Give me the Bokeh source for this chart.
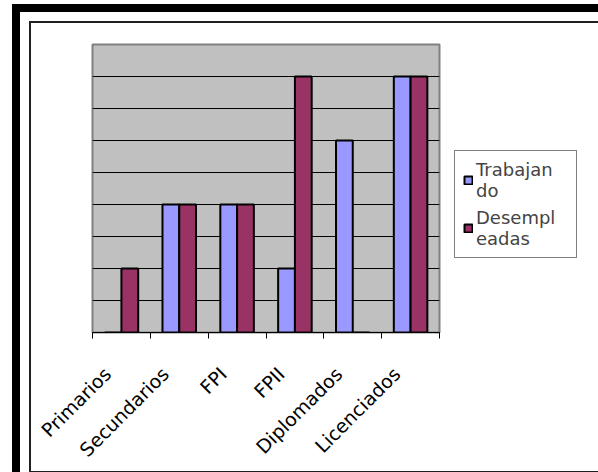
import math
from bokeh.plotting import figure
from bokeh.models import (FactorRange, Range1d, LinearAxis, FixedTicker,
                          Legend, LegendItem, ColumnDataSource, CustomLabelingPolicy)
from bokeh.transform import dodge
from bokeh.embed import file_html
from bokeh.resources import INLINE

categories = ["Primarios", "Secundarios", "FPI", "FPII", "Diplomados", "Licenciados"]
trabajando = [0, 4, 4, 2, 6, 8]
desempleadas = [2, 4, 4, 8, 0, 8]
legend_labels = ["Trabajan\ndo", "Desempl\neadas"]
grid_values = [1, 2, 3, 4, 5, 6, 7, 8]
y_max = 9

source = ColumnDataSource(dict(cat=categories, t=trabajando, d=desempleadas))

p = figure(x_range=FactorRange(*categories), y_range=Range1d(0, y_max),
           frame_width=347, frame_height=288, width=554, height=434,
           min_border_left=61, min_border_right=146, min_border_top=21, min_border_bottom=125,
           x_axis_location=None, y_axis_location=None,
           output_backend="svg", toolbar_location=None, tools="",
           styles={"margin-left": "31px", "margin-top": "23px",
                   "outline": "2px solid #202020",
                   "box-shadow": "0 0 0 11px white, 0 0 0 19px black"})
p.background_fill_color = "#C0C0C0"
p.border_fill_color = "white"
p.outline_line_color = "#808080"
p.outline_line_width = 2
p.xgrid.visible = False
p.ygrid.ticker = FixedTicker(ticks=grid_values)
p.ygrid.grid_line_color = "black"
p.ygrid.grid_line_width = 1

r1 = p.vbar(x=dodge("cat", -0.145, range=p.x_range), top="t", width=0.29, source=source,
            fill_color="#9999FF", line_color="black", line_width=2)
r2 = p.vbar(x=dodge("cat", 0.145, range=p.x_range), top="d", width=0.29, source=source,
            fill_color="#993366", line_color="black", line_width=2)

n = len(categories)
# tick marks at category boundaries (synthetic coordinates 0..n), no labels
tick_axis = LinearAxis(ticker=FixedTicker(ticks=list(range(n + 1))),
                       major_tick_out=6, major_tick_in=0, minor_tick_out=0, minor_tick_in=0,
                       major_label_standoff=0,
                       major_label_policy=CustomLabelingPolicy(
                           code="for (const i of indices) indices.unset(i); return indices"),
                       axis_line_color="black", major_tick_line_color="black")
p.add_layout(tick_axis, "below")

# category names, rotated 45 degrees, ending a little left of each category centre
label_pos = [i + 0.26 for i in range(n)]
label_axis = LinearAxis(ticker=FixedTicker(ticks=label_pos),
                        major_label_overrides={pos: name for pos, name in zip(label_pos, categories)},
                        major_label_orientation=math.pi / 4, axis_line_color=None,
                        major_tick_line_color=None, major_tick_out=0, major_tick_in=0,
                        minor_tick_line_color=None, minor_tick_out=0, minor_tick_in=0,
                        major_label_text_font="DejaVu Sans", major_label_text_font_size="19px",
                        major_label_text_color="black", major_label_standoff=21)
p.add_layout(label_axis, "below")

legend = Legend(items=[LegendItem(label=legend_labels[0], renderers=[r1]),
                       LegendItem(label=legend_labels[1], renderers=[r2])],
                location=(15, 74), orientation="vertical",
                border_line_color="black", border_line_width=1,
                background_fill_color="white", background_fill_alpha=1,
                padding=8, spacing=6, glyph_width=10, glyph_height=10, label_standoff=3,
                label_width=92,
                label_text_font="DejaVu Sans", label_text_font_size="18px",
                label_text_line_height=0.8, margin=0)
p.add_layout(legend, "right")

open("out.html", "w").write(file_html(p, INLINE))
